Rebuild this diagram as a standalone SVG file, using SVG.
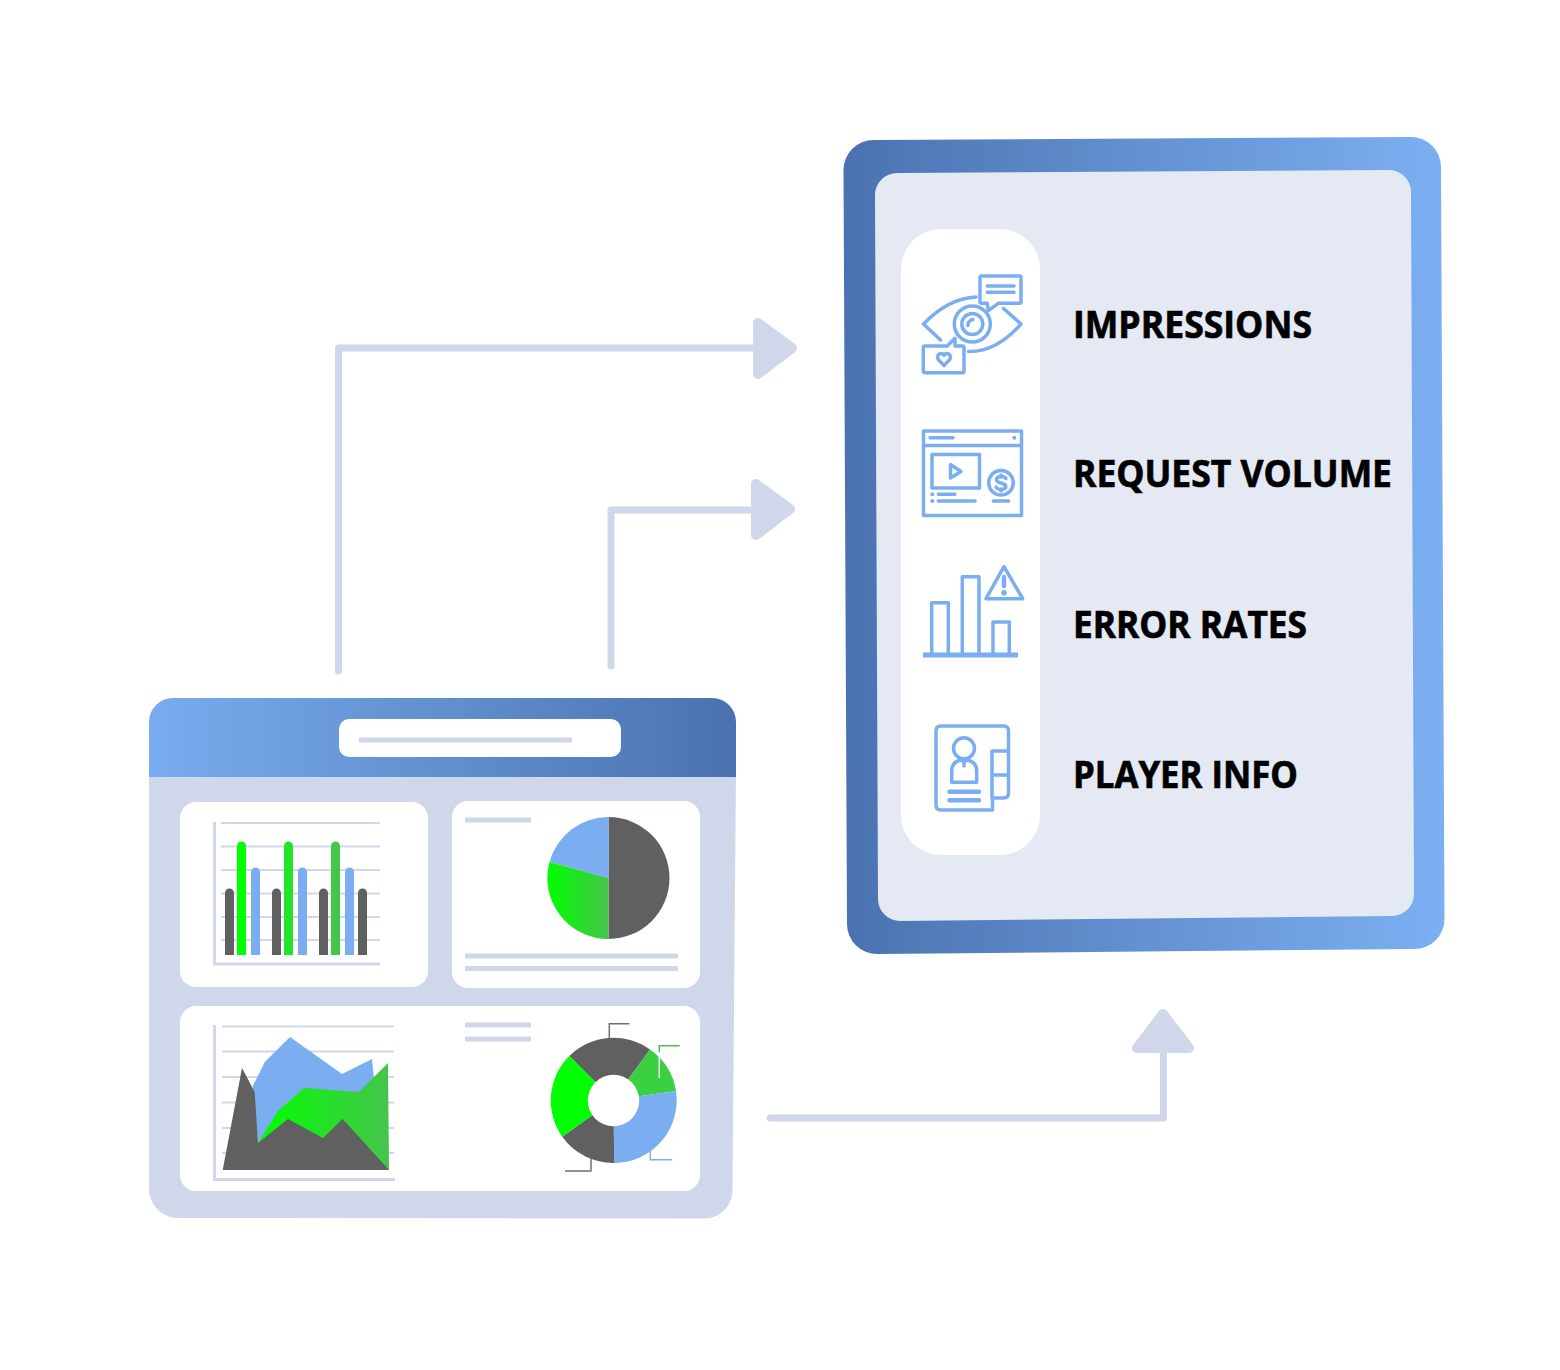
<svg xmlns="http://www.w3.org/2000/svg" width="1560" height="1370" viewBox="0 0 1560 1370">
<style>
.conn{fill:none;stroke:#d0d7ea;stroke-width:7;stroke-linecap:round;stroke-linejoin:round}
.head{fill:#d0d7ea;stroke:#d0d7ea;stroke-width:10;stroke-linejoin:round}
.bg{fill:#d0d7ea}.card{fill:#fff}
.line{stroke:#d0d7ea;stroke-width:5;fill:none}
.grid{stroke:#d0d7ea;stroke-width:2;fill:none}
.axis{stroke:#d0d7ea;stroke-width:3;fill:none}
.g{fill:#606060}.b{fill:#7aaef0}
.ic{fill:none;stroke:#7aaef0;stroke-width:3.500;stroke-linecap:round;stroke-linejoin:round}
.icf{fill:#7aaef0}
.lab{font-family:"Open Sans","Liberation Sans",sans-serif;font-weight:700;font-size:38px;fill:#000;stroke:#000;stroke-width:0.700}
</style>
<defs>
<linearGradient id="gradR" x1="0" y1="0" x2="1" y2="0"><stop offset="0" stop-color="#4a72b0"/><stop offset="1" stop-color="#7cb0f2"/></linearGradient>
<linearGradient id="gradL" x1="0" y1="0" x2="1" y2="0"><stop offset="0" stop-color="#78acee"/><stop offset="1" stop-color="#4a72b0"/></linearGradient>
<linearGradient id="gG" x1="0" y1="0" x2="1" y2="0"><stop offset="0" stop-color="#00ff00"/><stop offset="1" stop-color="#46c44c"/></linearGradient>
</defs>

<g id="connectors">
<path class="conn" d="M338.500 671V348H757"/>
<path class="head" d="M758 323L792 348L758 374Z"/>
<path class="conn" d="M611 666V510H755"/>
<path class="head" d="M756 484L790 509L756 535Z"/>
<path class="conn" d="M770 1118H1163.500V1050"/>
<path class="head" d="M1137 1048L1163 1014L1189 1048Z"/>
</g>

<g id="dashboard">
<path class="bg" d="M149 770H736L732.500 1190A28 28 0 0 1 704.500 1218.500L178 1218A29 29 0 0 1 149 1189Z"/>
<path fill="url(#gradL)" d="M149 777V722A24 24 0 0 1 173 698H712A24 24 0 0 1 736 722V777Z"/>
<rect class="card" x="339" y="719" width="282" height="38" rx="10"/>
<path class="line" d="M359 740H572"/>
</g>

<g id="bar-card">
<rect class="card" x="180" y="802" width="248" height="185" rx="16"/>
<path class="grid" d="M221 823H380M221 846.500H380M221 870H380M221 893.500H380M221 917H380M221 940H380"/>
<path class="axis" d="M214.500 822V964H380"/>
<path class="g" d="M225 955V893a4.500 4.500 0 0 1 9 0V955Z"/>
<path fill="#00ff00" d="M237 955V846a4.500 4.500 0 0 1 9 0V955Z"/>
<path class="b" d="M251 955V872a4.500 4.500 0 0 1 9 0V955Z"/>
<path class="g" d="M272 955V893a4.500 4.500 0 0 1 9 0V955Z"/>
<path fill="#22e52a" d="M284 955V846a4.500 4.500 0 0 1 9 0V955Z"/>
<path class="b" d="M298 955V872a4.500 4.500 0 0 1 9 0V955Z"/>
<path class="g" d="M319 955V893a4.500 4.500 0 0 1 9 0V955Z"/>
<path fill="#44c64a" d="M331 955V846a4.500 4.500 0 0 1 9 0V955Z"/>
<path class="b" d="M345 955V872a4.500 4.500 0 0 1 9 0V955Z"/>
<path class="g" d="M358 955V893a4.500 4.500 0 0 1 9 0V955Z"/>
</g>

<g id="pie-card">
<rect class="card" x="452" y="801" width="248" height="187" rx="16"/>
<path class="line" d="M465 820H531M465 956H678M465 968.500H678"/>
<path class="g" d="M608.500 878V817A61 61 0 0 1 608.500 939Z"/>
<path class="b" d="M608.500 878L608.500 817A61 61 0 0 0 549.500 862Z"/>
<path fill="url(#gG)" d="M608.500 878L549.500 862A61 61 0 0 0 608.500 939Z"/>
</g>

<g id="area-card">
<rect class="card" x="180" y="1006" width="520" height="185" rx="16"/>
<path class="grid" d="M222 1026.500H394M222 1051.500H394M222 1077H394M222 1102.500H394M222 1128H394M222 1153H394"/>
<path class="axis" d="M214.500 1025V1179.500H395"/>
<path class="b" d="M252.700 1086L265 1061.700L290 1037L342 1074L372 1059L374 1080L360 1110L258 1143Z"/>
<path fill="url(#gG)" d="M258 1143L278 1111L304 1088L359 1092L388 1063L389 1170Z"/>
<path class="g" d="M222.700 1170L242 1068L254.700 1092L258 1143L288 1119L323 1138L342.700 1119L389 1170Z"/>
<path class="line" d="M465 1025H531M465 1039H531"/>
<path fill="none" stroke="#707070" stroke-width="1.500" d="M609.300 1038V1023.700H629.300"/>
<path fill="none" stroke="#46c44c" stroke-width="1.500" d="M659.300 1052V1045.700H679.700"/>
<path fill="none" stroke="#7aaef0" stroke-width="1.500" d="M650.300 1151V1159.700H672.300"/>
<path fill="none" stroke="#707070" stroke-width="1.500" d="M591 1158V1171H565"/>
<path class="g" d="M613.300 1100L569.300 1056A62.700 62.700 0 0 1 650 1049.500Z"/>
<path fill="#3ad03f" d="M613.300 1100L650 1049.500A62.700 62.700 0 0 1 676 1091Z"/>
<path class="b" d="M613.300 1100L676 1091A62.700 62.700 0 0 1 614.300 1163Z"/>
<path class="g" d="M613.300 1100L614.300 1163A62.700 62.700 0 0 1 562.300 1136.700Z"/>
<path fill="#00ff00" d="M613.300 1100L562.300 1136.700A62.700 62.700 0 0 1 569.300 1056Z"/>
<circle cx="613.500" cy="1100.500" r="25.700" fill="#fff"/>
<path fill="none" stroke="#fff" stroke-width="1.500" d="M659.300 1052V1078"/>
</g>

<g id="metrics-panel">
<path fill="url(#gradR)" d="M843.500 170A30 30 0 0 1 873.500 140L1411 137A30 30 0 0 1 1441 167L1444.500 919A30 30 0 0 1 1414.500 949L877 954A30 30 0 0 1 847 924Z"/>
<path fill="#e4e9f3" d="M875 195A22 22 0 0 1 897 173L1389 170A22 22 0 0 1 1411 192L1414 894A22 22 0 0 1 1392 916L900 921A22 22 0 0 1 878 899Z"/>
<rect class="card" x="901" y="229" width="139" height="626" rx="40"/>
</g>

<g id="impressions">
<path class="ic" d="M976 297C955 298 938 309 923.500 324L940.500 340M1003.500 308.500L1021 324C1006 341 988 352 968.500 351.500"/>
<circle class="ic" cx="972.300" cy="324" r="18"/>
<circle class="ic" cx="972.300" cy="324" r="10.500"/>
<path class="ic" d="M968 325.500A5.500 5.500 0 0 1 973 319.500"/>
<path class="ic" d="M981.500 276H1019.500Q1021 276 1021 277.500V302Q1021 303.300 1019.500 303.300H998.300L988.300 310.700L987.300 303.300H981.500Q980 303.300 980 302V277.500Q980 276 981.500 276Z"/>
<path class="ic" d="M987.300 286H1014M987.300 292.300H1014"/>
<path class="ic" d="M925 346H947.300L955 338.300V346H962.500Q964 346 964 347.500V371Q964 372.700 962.500 372.700H925Q923.300 372.700 923.300 371V347.500Q923.300 346 925 346Z"/>
<path class="ic" d="M944 365.500L938.200 359.500C935.500 355.500 941.500 350.800 944 355.500C946.500 350.800 952.500 355.500 949.800 359.500Z"/>
<text class="lab" x="1073" y="337.700" textLength="239" lengthAdjust="spacingAndGlyphs">IMPRESSIONS</text>
</g>

<g id="request-volume">
<rect class="ic" x="923.500" y="431" width="98" height="84.500" stroke-linejoin="miter"/>
<path class="ic" d="M923.500 445.500H1021.500M930 437.700H953"/>
<circle class="icf" cx="1014.300" cy="437.700" r="2"/>
<rect class="ic" x="932" y="454.500" width="47.500" height="33.500"/>
<path class="ic" d="M950.500 464.500L961 471.500L950.500 478Z"/>
<circle class="ic" cx="1001" cy="482.700" r="12.300"/>
<path class="ic" d="M1006 478.500C1004 475.500 997 476 996.500 479.500C996 484 1006 482 1005.800 486.500C1005.500 490 998 490.500 996 487M1001 475V477M1001 489V491"/>
<circle class="icf" cx="932.300" cy="494.300" r="2"/>
<circle class="icf" cx="932.300" cy="501" r="2"/>
<path class="ic" d="M938.300 494.300H955M938.300 501H975M993.300 501H1008.700"/>
<text class="lab" x="1073" y="487.300" textLength="319" lengthAdjust="spacingAndGlyphs">REQUEST VOLUME</text>
</g>

<g id="error-rates">
<path class="ic" stroke-width="4.500" stroke-linejoin="miter" stroke-linecap="butt" d="M931.700 653V602.700H948.300V653M962.300 653V576.700H979V653M993 653V622H1009.300V653"/>
<path fill="none" stroke="#7aaef0" stroke-width="5" d="M923 655H1018"/>
<path class="ic" d="M1004 566.700L986 598.700H1022.700Z"/>
<path fill="none" stroke="#7aaef0" stroke-width="4.500" stroke-linecap="round" d="M1004 577V586"/>
<circle class="icf" cx="1004" cy="592.700" r="2.800"/>
<text class="lab" x="1073" y="638" textLength="234" lengthAdjust="spacingAndGlyphs">ERROR RATES</text>
</g>

<g id="player-info">
<path class="ic" stroke-width="3.800" d="M992.500 798V810H941Q936 810 936 805V731Q936 726 941 726H1003.500Q1008.500 726 1008.500 731V793Q1008.500 798 1003.500 798H992V751H1008.500M992 775H1008.500"/>
<circle class="ic" stroke-width="3.800" cx="964" cy="748.300" r="10.500"/>
<path class="ic" stroke-width="3.800" d="M951.700 782.300V771Q951.700 763 959 760.500H969Q976.700 763 976.700 771V782.300ZM964 760.500V766"/>
<path fill="none" stroke="#7aaef0" stroke-width="4.500" stroke-linecap="round" d="M949.500 791.700H979M949.500 800.300H979"/>
<text class="lab" x="1073" y="788" textLength="225" lengthAdjust="spacingAndGlyphs">PLAYER INFO</text>
</g>
</svg>
